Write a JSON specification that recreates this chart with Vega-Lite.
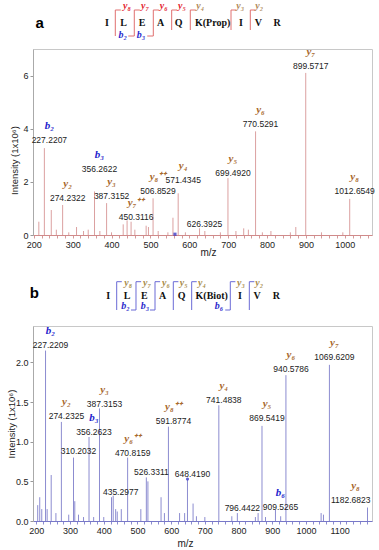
{
  "$schema": "https://vega.github.io/schema/vega-lite/v6.json",
  "padding": {"left": 5, "top": 0, "right": 0, "bottom": 0},
  "bounds": "flush",
  "spacing": 0,
  "resolve": {"scale": {"color": "independent"}},
  "config": {
    "font": "Liberation Sans",
    "view": {"stroke": "#c8c8c8"},
    "axis": {"grid": false, "labelFont": "Liberation Sans", "titleFont": "Liberation Sans", "labelColor": "#222", "titleColor": "#222"}
  },
  "datasets": {
    "ha": [
      {"t": "tag", "p": 2.0, "l": 26.5, "s": "a"},
      {"t": "res", "p": 21.83, "l": 25.7, "s": "I"},
      {"t": "res", "p": 26.75, "l": 25.7, "s": "L"},
      {"t": "res", "p": 32.15, "l": 25.7, "s": "E"},
      {"t": "res", "p": 37.67, "l": 25.7, "s": "A"},
      {"t": "res", "p": 42.98, "l": 25.7, "s": "Q"},
      {"t": "res", "p": 53.01, "l": 25.7, "s": "K(Prop)"},
      {"t": "res", "p": 61.36, "l": 25.7, "s": "I"},
      {"t": "res", "p": 66.46, "l": 25.7, "s": "V"},
      {"t": "res", "p": 71.98, "l": 25.7, "s": "R"},
      {"t": "line", "p": 24.28, "l": 39, "p2": 24.28, "l2": 13},
      {"t": "line", "p": 29.88, "l": 39, "p2": 29.88, "l2": 13},
      {"t": "line", "p": 35.49, "l": 39, "p2": 35.49, "l2": 13},
      {"t": "line", "p": 40.91, "l": 39, "p2": 40.91, "l2": 19},
      {"t": "line", "p": 46.40, "l": 39, "p2": 46.40, "l2": 19},
      {"t": "line", "p": 58.41, "l": 39, "p2": 58.41, "l2": 19},
      {"t": "line", "p": 64.10, "l": 39, "p2": 64.10, "l2": 19},
      {"t": "line", "p": 24.28, "l": 39, "p2": 25.9, "l2": 39},
      {"t": "line", "p": 29.88, "l": 39, "p2": 31.5, "l2": 39},
      {"t": "line", "p": 35.49, "l": 39, "p2": 37.1, "l2": 39},
      {"t": "line", "p": 40.91, "l": 39, "p2": 42.5, "l2": 39},
      {"t": "line", "p": 46.40, "l": 39, "p2": 48.0, "l2": 39},
      {"t": "line", "p": 58.41, "l": 39, "p2": 60.0, "l2": 39},
      {"t": "line", "p": 64.10, "l": 39, "p2": 65.7, "l2": 39},
      {"t": "line", "p": 28.1, "l": 13, "p2": 29.88, "l2": 13},
      {"t": "line", "p": 33.7, "l": 13, "p2": 35.49, "l2": 13},
      {"t": "ion", "p": 27.73, "l": 43, "s": "y₈", "k": "r"},
      {"t": "ion", "p": 33.04, "l": 43, "s": "y₇", "k": "r"},
      {"t": "ion", "p": 38.55, "l": 43, "s": "y₆", "k": "r"},
      {"t": "ion", "p": 43.95, "l": 43, "s": "y₅", "k": "r"},
      {"t": "ion", "p": 49.35, "l": 43, "s": "y₄", "k": "t"},
      {"t": "ion", "p": 61.15, "l": 43, "s": "y₃", "k": "t"},
      {"t": "ion", "p": 66.76, "l": 43, "s": "y₂", "k": "t"},
      {"t": "ion", "p": 26.46, "l": 14, "s": "b₂", "k": "b"},
      {"t": "ion", "p": 31.86, "l": 14, "s": "b₃", "k": "b"}
    ],
    "hb": [
      {"t": "tag", "p": 0.4, "l": 32.7, "s": "b"},
      {"t": "res", "p": 22.21, "l": 30.3, "s": "I"},
      {"t": "res", "p": 27.73, "l": 30.3, "s": "L"},
      {"t": "res", "p": 32.83, "l": 30.3, "s": "E"},
      {"t": "res", "p": 38.26, "l": 30.3, "s": "A"},
      {"t": "res", "p": 43.86, "l": 30.3, "s": "Q"},
      {"t": "res", "p": 52.71, "l": 30.3, "s": "K(Biot)"},
      {"t": "res", "p": 61.06, "l": 30.3, "s": "I"},
      {"t": "res", "p": 66.08, "l": 30.3, "s": "V"},
      {"t": "res", "p": 71.77, "l": 30.3, "s": "R"},
      {"t": "line", "p": 24.69, "l": 44.3, "p2": 24.69, "l2": 16},
      {"t": "line", "p": 30.38, "l": 44.3, "p2": 30.38, "l2": 16},
      {"t": "line", "p": 35.99, "l": 44.3, "p2": 35.99, "l2": 16},
      {"t": "line", "p": 41.39, "l": 44.3, "p2": 41.39, "l2": 16},
      {"t": "line", "p": 46.81, "l": 44.3, "p2": 46.81, "l2": 16},
      {"t": "line", "p": 58.20, "l": 44.3, "p2": 58.20, "l2": 16},
      {"t": "line", "p": 63.81, "l": 44.3, "p2": 63.81, "l2": 16},
      {"t": "line", "p": 24.69, "l": 44.3, "p2": 26.2, "l2": 44.3},
      {"t": "line", "p": 30.38, "l": 44.3, "p2": 31.9, "l2": 44.3},
      {"t": "line", "p": 35.99, "l": 44.3, "p2": 37.5, "l2": 44.3},
      {"t": "line", "p": 41.39, "l": 44.3, "p2": 42.9, "l2": 44.3},
      {"t": "line", "p": 46.81, "l": 44.3, "p2": 48.3, "l2": 44.3},
      {"t": "line", "p": 58.20, "l": 44.3, "p2": 59.7, "l2": 44.3},
      {"t": "line", "p": 63.81, "l": 44.3, "p2": 65.3, "l2": 44.3},
      {"t": "line", "p": 28.9, "l": 16, "p2": 30.38, "l2": 16},
      {"t": "line", "p": 34.5, "l": 16, "p2": 35.99, "l2": 16},
      {"t": "line", "p": 56.7, "l": 16, "p2": 58.20, "l2": 16},
      {"t": "ion", "p": 28.11, "l": 42.7, "s": "y₈", "k": "y"},
      {"t": "ion", "p": 33.63, "l": 42.7, "s": "y₇", "k": "y"},
      {"t": "ion", "p": 39.23, "l": 42.7, "s": "y₆", "k": "y"},
      {"t": "ion", "p": 44.45, "l": 42.7, "s": "y₅", "k": "y"},
      {"t": "ion", "p": 49.85, "l": 42.7, "s": "y₄", "k": "y"},
      {"t": "ion", "p": 61.36, "l": 42.7, "s": "y₃", "k": "y"},
      {"t": "ion", "p": 66.76, "l": 42.7, "s": "y₂", "k": "y"},
      {"t": "ion", "p": 27.29, "l": 20, "s": "b₂", "k": "b"},
      {"t": "ion", "p": 33.04, "l": 20, "s": "b₃", "k": "b"},
      {"t": "ion", "p": 54.87, "l": 20, "s": "b₆", "k": "b"}
    ],
    "pa": [
      {"mz": 213, "I": 0.5},
      {"mz": 227.2207, "I": 3.27, "ann": 3.59, "ion": "b₂", "k": "b"},
      {"mz": 245, "I": 0.94},
      {"mz": 258, "I": 0.2},
      {"mz": 274.2322, "I": 1.13, "ann": 1.39, "ion": "y₂", "k": "y"},
      {"mz": 290, "I": 0.1},
      {"mz": 310, "I": 0.3},
      {"mz": 328, "I": 0.15},
      {"mz": 340, "I": 0.2},
      {"mz": 356.2622, "I": 1.64, "ann": 2.47, "ion": "b₃", "k": "b"},
      {"mz": 370, "I": 0.15},
      {"mz": 387.3152, "I": 1.2, "ann": 1.46, "ion": "y₃", "k": "y"},
      {"mz": 400, "I": 0.1},
      {"mz": 430, "I": 0.4},
      {"mz": 440, "I": 0.55},
      {"mz": 450.3116, "I": 0.5, "ann": 0.69, "ion": "y₇⁺⁺", "k": "y"},
      {"mz": 460, "I": 0.2},
      {"mz": 489, "I": 0.35},
      {"mz": 495, "I": 0.3},
      {"mz": 506.8529, "I": 1.38, "ann": 1.66, "ion": "y₈⁺⁺", "k": "y"},
      {"mz": 520, "I": 0.15},
      {"mz": 545, "I": 0.1},
      {"mz": 558, "I": 0.65},
      {"mz": 571.4345, "I": 1.57, "ann": 2.08, "ion": "y₄", "k": "y"},
      {"mz": 590, "I": 0.1},
      {"mz": 626.3925, "I": 0.25, "ann": 0.4},
      {"mz": 640, "I": 0.15},
      {"mz": 680, "I": 0.1},
      {"mz": 699.492, "I": 2.14, "ann": 2.35, "ion": "y₅", "k": "y"},
      {"mz": 720, "I": 0.15},
      {"mz": 740, "I": 0.25},
      {"mz": 752, "I": 0.2},
      {"mz": 770.5291, "I": 3.9, "ann": 4.18, "ion": "y₆", "k": "y"},
      {"mz": 788, "I": 0.1},
      {"mz": 810, "I": 0.15},
      {"mz": 860, "I": 0.1},
      {"mz": 874, "I": 0.3},
      {"mz": 899.5717, "I": 6.1, "ann": 6.35, "ion": "y₇", "k": "y"},
      {"mz": 940, "I": 0.1},
      {"mz": 995, "I": 0.1},
      {"mz": 1012.6549, "I": 1.36, "ann": 1.66, "ion": "y₈", "k": "y"}
    ],
    "pb": [
      {"mz": 204, "I": 0.2},
      {"mz": 210, "I": 0.3},
      {"mz": 216, "I": 0.15},
      {"mz": 227.2209, "I": 2.15, "ann": 2.22, "ion": "b₂", "k": "b"},
      {"mz": 232, "I": 0.15},
      {"mz": 244, "I": 0.58},
      {"mz": 258, "I": 0.1},
      {"mz": 274.2325, "I": 1.25, "ann": 1.32, "ion": "y₂", "k": "y"},
      {"mz": 296, "I": 0.08},
      {"mz": 310.2032, "I": 0.8, "ann": 0.88},
      {"mz": 314, "I": 0.25},
      {"mz": 325, "I": 0.08},
      {"mz": 340, "I": 0.05},
      {"mz": 356.2623, "I": 1.06, "ann": 1.12, "ion": "b₃", "k": "b"},
      {"mz": 370, "I": 0.05},
      {"mz": 387.3153, "I": 1.42, "ann": 1.48, "ion": "y₃", "k": "y"},
      {"mz": 400, "I": 0.05},
      {"mz": 423, "I": 0.3},
      {"mz": 428, "I": 0.32},
      {"mz": 435.2977, "I": 0.15, "ann": 0.37},
      {"mz": 440, "I": 0.12},
      {"mz": 452, "I": 0.15},
      {"mz": 470.8159, "I": 0.8, "ann": 0.86, "ion": "y₆⁺⁺", "k": "y"},
      {"mz": 510, "I": 0.15},
      {"mz": 526.3311, "I": 0.55, "ann": 0.62},
      {"mz": 531, "I": 0.5},
      {"mz": 570, "I": 0.3},
      {"mz": 580, "I": 0.1},
      {"mz": 591.8774, "I": 1.19, "ann": 1.26, "ion": "y₈⁺⁺", "k": "y"},
      {"mz": 625, "I": 0.1},
      {"mz": 640, "I": 0.1},
      {"mz": 648.419, "I": 0.52, "ann": 0.59},
      {"mz": 665, "I": 0.22},
      {"mz": 675, "I": 0.06},
      {"mz": 700, "I": 0.05},
      {"mz": 741.4838, "I": 1.46, "ann": 1.53, "ion": "y₄", "k": "y"},
      {"mz": 780, "I": 0.06},
      {"mz": 796.4422, "I": 0.1, "ann": 0.16},
      {"mz": 850, "I": 0.05},
      {"mz": 858, "I": 0.1},
      {"mz": 869.5419, "I": 1.2, "ann": 1.3, "ion": "y₅", "k": "y"},
      {"mz": 880, "I": 0.05},
      {"mz": 909.5265, "I": 0.14, "ann": 0.18, "ion": "b₆", "k": "b"},
      {"mz": 925, "I": 0.06},
      {"mz": 940.5786, "I": 1.84, "ann": 1.92, "ion": "y₆", "k": "y"},
      {"mz": 1045, "I": 0.1},
      {"mz": 1052, "I": 0.08},
      {"mz": 1069.6209, "I": 1.97, "ann": 2.07, "ion": "y₇", "k": "y"},
      {"mz": 1182.6823, "I": 0.17, "ann": 0.27, "ion": "y₈", "k": "y"}
    ]
  },
  "vconcat": [
    {
      "width": 339, "height": 49,
      "view": {"stroke": null},
      "data": {"name": "ha"},
      "encoding": {
        "x": {"field": "p", "type": "quantitative", "scale": {"domain": [0, 100], "nice": false, "zero": false}, "axis": null},
        "y": {"field": "l", "type": "quantitative", "scale": {"domain": [0, 49], "nice": false, "zero": false}, "axis": null}
      },
      "layer": [
        {"transform": [{"filter": "datum.t === 'line'"}], "mark": {"type": "rule", "color": "#e07070", "strokeWidth": 1}, "encoding": {"x2": {"field": "p2"}, "y2": {"field": "l2"}}},
        {"transform": [{"filter": "datum.t === 'res'"}], "mark": {"type": "text", "font": "Liberation Serif", "fontWeight": "bold", "fontSize": 10, "baseline": "middle", "color": "#111"}, "encoding": {"text": {"field": "s"}}},
        {"transform": [{"filter": "datum.t === 'ion'"}], "mark": {"type": "text", "font": "Liberation Serif", "fontStyle": "italic", "fontWeight": "bold", "fontSize": 10, "baseline": "middle"}, "encoding": {"text": {"field": "s"}, "color": {"field": "k", "type": "nominal", "scale": {"domain": ["r", "t", "b"], "range": ["#e3262f", "#b08a5a", "#2a2acc"]}, "legend": null}}},
        {"transform": [{"filter": "datum.t === 'tag'"}], "mark": {"type": "text", "font": "Liberation Sans", "fontWeight": "bold", "fontSize": 15, "baseline": "middle", "color": "#000"}, "encoding": {"text": {"field": "s"}}}
      ]
    },
    {
      "width": 339, "height": 186,
      "data": {"name": "pa"},
      "encoding": {
        "x": {"field": "mz", "type": "quantitative", "scale": {"domain": [198, 1070], "nice": false, "zero": false},
          "axis": {"title": "m/z", "format": "d", "values": [200,220,240,260,280,300,320,340,360,380,400,420,440,460,480,500,520,540,560,580,600,620,640,660,680,700,720,740,760,780,800,820,840,860,880,900,920,940,960,980,1000,1020,1040,1060],
            "labelExpr": "datum.value % 100 === 0 ? datum.label : ''", "labelOverlap": false, "labelFlush": false, "tickSize": 3, "tickColor": "#d49a9a", "domainColor": "#d08a8a", "labelFontSize": 9, "labelPadding": 2,
            "titleFontSize": 10, "titleFontWeight": "normal", "titleX": 175, "titleY": 17, "titleBaseline": "middle"}}
      },
      "layer": [
        {"mark": {"type": "rule", "color": "#dba0a0", "strokeWidth": 1},
          "encoding": {
            "y": {"field": "I", "type": "quantitative", "scale": {"domain": [0, 7], "nice": false}, "title": "Intensity (1x10⁶)",
              "axis": {"values": [0, 1, 2, 3, 4, 5, 6], "format": "d", "tickSize": 3, "tickColor": "#999", "domainColor": "#aaa", "labelFontSize": 9, "labelPadding": 2, "titleFontSize": 9.5, "titleFontWeight": "normal", "titleX": -19, "titleY": 111, "titleBaseline": "middle", "titleAlign": "center"}},
            "y2": {"datum": 0}}},
        {"transform": [{"filter": "datum.ann != null"}], "mark": {"type": "text", "fontSize": 8.5, "dx": 5, "baseline": "middle", "color": "#222"},
          "encoding": {"y": {"field": "ann", "type": "quantitative", "title": "Intensity (1x10⁶)"}, "text": {"field": "mz", "type": "quantitative", "format": ".4f"}}},
        {"transform": [{"filter": "datum.ion != null"}], "mark": {"type": "text", "font": "Liberation Serif", "fontStyle": "italic", "fontWeight": "bold", "fontSize": 11, "dx": 5, "dy": -14, "baseline": "middle"},
          "encoding": {"y": {"field": "ann", "type": "quantitative", "title": "Intensity (1x10⁶)"}, "text": {"field": "ion"}, "color": {"field": "k", "type": "nominal", "scale": {"domain": ["y", "b"], "range": ["#a8692e", "#2222cc"]}, "legend": null}}},
        {"data": {"values": [{"mz": 563.2001, "I": 0.03}]}, "mark": {"type": "point", "shape": "square", "filled": true, "size": 10, "color": "#2020c0"},
          "encoding": {"y": {"field": "I", "type": "quantitative", "title": "Intensity (1x10⁶)"}}},
        {"data": {"values": [{"s": "+MS2(563.2001), 27.0eV, 36.4-37.3min #2129-2181"}]}, "mark": {"type": "text", "fontSize": 8.8, "align": "left", "baseline": "middle", "color": "#222"},
          "encoding": {"x": {"datum": 229}, "y": {"datum": 6.35}, "text": {"field": "s"}}}
      ]
    },
    {
      "width": 339, "height": 91,
      "view": {"stroke": null},
      "data": {"name": "hb"},
      "encoding": {
        "x": {"field": "p", "type": "quantitative", "scale": {"domain": [0, 100], "nice": false, "zero": false}, "axis": null},
        "y": {"field": "l", "type": "quantitative", "scale": {"domain": [0, 91], "nice": false, "zero": false}, "axis": null}
      },
      "layer": [
        {"transform": [{"filter": "datum.t === 'line'"}], "mark": {"type": "rule", "color": "#6b6bd6", "strokeWidth": 1}, "encoding": {"x2": {"field": "p2"}, "y2": {"field": "l2"}}},
        {"transform": [{"filter": "datum.t === 'res'"}], "mark": {"type": "text", "font": "Liberation Serif", "fontWeight": "bold", "fontSize": 10, "baseline": "middle", "color": "#111"}, "encoding": {"text": {"field": "s"}}},
        {"transform": [{"filter": "datum.t === 'ion'"}], "mark": {"type": "text", "font": "Liberation Serif", "fontStyle": "italic", "fontWeight": "bold", "fontSize": 10, "baseline": "middle"}, "encoding": {"text": {"field": "s"}, "color": {"field": "k", "type": "nominal", "scale": {"domain": ["y", "b"], "range": ["#a88c4a", "#2a2acc"]}, "legend": null}}},
        {"transform": [{"filter": "datum.t === 'tag'"}], "mark": {"type": "text", "font": "Liberation Sans", "fontWeight": "bold", "fontSize": 15, "baseline": "middle", "color": "#000"}, "encoding": {"text": {"field": "s"}}}
      ]
    },
    {
      "width": 339, "height": 195,
      "data": {"name": "pb"},
      "encoding": {
        "x": {"field": "mz", "type": "quantitative", "scale": {"domain": [190, 1196], "nice": false, "zero": false},
          "axis": {"title": "m/z", "format": "d", "values": [200,220,240,260,280,300,320,340,360,380,400,420,440,460,480,500,520,540,560,580,600,620,640,660,680,700,720,740,760,780,800,820,840,860,880,900,920,940,960,980,1000,1020,1040,1060,1080,1100,1120,1140,1160,1180],
            "labelExpr": "datum.value % 100 === 0 ? datum.label : ''", "labelOverlap": false, "labelFlush": false, "tickSize": 3, "tickColor": "#8c8cd0", "domainColor": "#7878c8", "labelFontSize": 9, "labelPadding": 2,
            "titleFontSize": 10, "titleFontWeight": "normal", "titleX": 152, "titleY": 22, "titleBaseline": "middle"}}
      },
      "layer": [
        {"mark": {"type": "rule", "color": "#8c8cd0", "strokeWidth": 1},
          "encoding": {
            "y": {"field": "I", "type": "quantitative", "scale": {"domain": [0, 2.46], "nice": false}, "title": "Intensity (1x10⁶)",
              "axis": {"values": [0, 0.5, 1, 1.5, 2], "format": ".1f", "tickSize": 3, "tickColor": "#999", "domainColor": "#aaa", "labelFontSize": 9, "labelPadding": 2, "titleFontSize": 9.5, "titleFontWeight": "normal", "titleX": -22, "titleBaseline": "middle", "titleAlign": "center"}},
            "y2": {"datum": 0}}},
        {"transform": [{"filter": "datum.ann != null && datum.mz < 1150"}], "mark": {"type": "text", "fontSize": 8.5, "dx": 5, "baseline": "middle", "color": "#222"},
          "encoding": {"y": {"field": "ann", "type": "quantitative", "title": "Intensity (1x10⁶)"}, "text": {"field": "mz", "type": "quantitative", "format": ".4f"}}},
        {"transform": [{"filter": "datum.ann != null && datum.mz >= 1150"}], "mark": {"type": "text", "fontSize": 8.5, "dx": 3, "align": "right", "baseline": "middle", "color": "#222"},
          "encoding": {"y": {"field": "ann", "type": "quantitative", "title": "Intensity (1x10⁶)"}, "text": {"field": "mz", "type": "quantitative", "format": ".4f"}}},
        {"transform": [{"filter": "datum.ion != null && datum.mz < 1150"}], "mark": {"type": "text", "font": "Liberation Serif", "fontStyle": "italic", "fontWeight": "bold", "fontSize": 11, "dx": 5, "dy": -14, "baseline": "middle"},
          "encoding": {"y": {"field": "ann", "type": "quantitative", "title": "Intensity (1x10⁶)"}, "text": {"field": "ion"}, "color": {"field": "k", "type": "nominal", "scale": {"domain": ["y", "b"], "range": ["#a8692e", "#2222cc"]}, "legend": null}}},
        {"transform": [{"filter": "datum.ion != null && datum.mz >= 1150"}], "mark": {"type": "text", "font": "Liberation Serif", "fontStyle": "italic", "fontWeight": "bold", "fontSize": 11, "dx": -12, "dy": -14, "baseline": "middle"},
          "encoding": {"y": {"field": "ann", "type": "quantitative", "title": "Intensity (1x10⁶)"}, "text": {"field": "ion"}, "color": {"field": "k", "type": "nominal", "scale": {"domain": ["y", "b"], "range": ["#a8692e", "#2222cc"]}, "legend": null}}},
        {"data": {"values": [{"mz": 648.419, "I": 0.53}]}, "mark": {"type": "point", "shape": "circle", "filled": true, "size": 10, "color": "#2020c0"},
          "encoding": {"y": {"field": "I", "type": "quantitative", "title": "Intensity (1x10⁶)"}}},
        {"data": {"values": [{"s": "+MS2(648.4190), 33.0eV, 38.6min #2258"}]}, "mark": {"type": "text", "fontSize": 8.8, "align": "left", "baseline": "middle", "color": "#222"},
          "encoding": {"x": {"datum": 310.5}, "y": {"datum": 2.2}, "text": {"field": "s"}}}
      ]
    }
  ]
}
